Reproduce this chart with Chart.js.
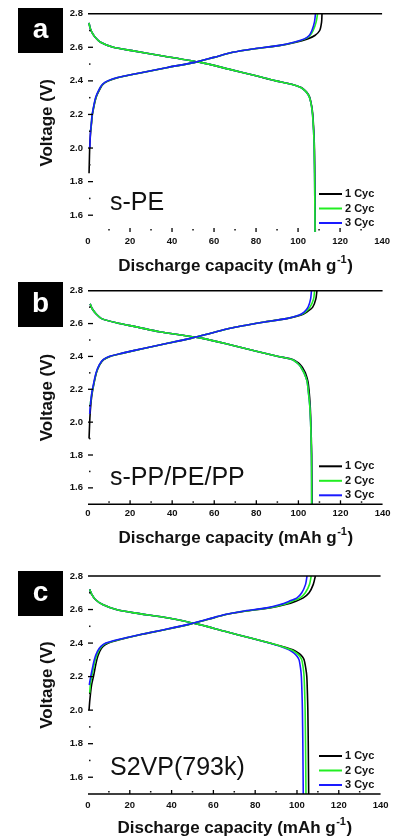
<!DOCTYPE html>
<html>
<head>
<meta charset="utf-8">
<script src="https://cdn.jsdelivr.net/npm/chart.js@4.4.1/dist/chart.umd.min.js"></script>
<style>
body { margin: 0; background: #fff; width: 394px; height: 840px; overflow: hidden; position: relative; }
canvas { position: absolute; left: 0; }
</style>
</head>
<body>
<canvas id="chartA" width="394" height="280" style="top:0px"></canvas>
<canvas id="chartB" width="394" height="280" style="top:280px"></canvas>
<canvas id="chartC" width="394" height="280" style="top:560px"></canvas>
<script>
// cycle names and colours
var cycleLabels = ['1 Cyc', '2 Cyc', '3 Cyc'];
var cycleColors = ['#000000', '#22ee22', '#1a1aff'];

// voltage grid (V) for the charge branch (rising) and discharge branch (falling)
var chargeV = [1.85, 1.9, 2.0, 2.05, 2.1, 2.15, 2.2, 2.3, 2.35, 2.38, 2.40, 2.42, 2.45, 2.48, 2.51, 2.54, 2.57, 2.59, 2.61, 2.63, 2.65, 2.67, 2.70, 2.75, 2.80];
var dischargeV = [2.745, 2.72, 2.69, 2.66, 2.63, 2.60, 2.58, 2.55, 2.51, 2.47, 2.43, 2.40, 2.38, 2.36, 2.34, 2.32, 2.30, 2.25, 2.20, 2.10, 2.0, 1.8, 1.5];

// capacity (mAh/g) at those voltages; null = no point
// a: s-PE
var chargeA1 = [0.5, 0.6, 0.8, 1.0, 1.3, 1.7, 2.1, 3.8, 5.6, 7.2, 9.8, 14.5, 26, 38, 51, 60, 69, 78.5, 91, 99, 104.5, 108, 110.3, 111.2, 111.4];
var chargeA2 = [null, null, null, null, 1.2, 1.6, 2.0, 3.7, 5.4, 7.0, 9.5, 14.2, 26, 38, 51, 60, 69, 78.4, 90.7, 98.3, 103.3, 105.7, 107.2, 108.6, 109.3];
var chargeA3 = [null, null, 0.9, 1.0, 1.2, 1.6, 2.0, 3.6, 5.3, 6.9, 9.3, 14, 25.8, 37.8, 50.8, 59.8, 68.8, 78.3, 90.5, 98, 103, 105.3, 106.6, 107.8, 108.3];
var dischA1 = [0.5, 0.9, 1.8, 3.4, 6.0, 12, 21, 35, 53.5, 67, 80, 89.5, 97, 101.5, 103.5, 104.8, 105.6, 106.5, 107, 107.5, 107.8, 108.0, 108.2];
var dischA2 = [0.5, 0.9, 1.8, 3.4, 6.0, 12, 21, 35, 53.5, 67, 80, 89.4, 96.8, 101.3, 103.4, 104.7, 105.5, 106.4, 106.9, 107.4, 107.7, 107.9, 108.1];
var dischA3 = [0.5, 0.9, 1.8, 3.4, 6.0, 12, 21, 35, 53.5, 67, 80, 89.4, 96.8, 101.3, 103.4, 104.7, 105.5, 106.4, 106.9, 107.4, 107.7, 107.9, 108.1];
// b: s-PP/PE/PP
var chargeB1 = [null, 0.5, 0.8, 1.0, 1.3, 1.7, 2.3, 4.0, 5.6, 7.5, 10.5, 16.6, 27, 37.9, 49, 58, 67, 75.1, 84, 94.5, 101, 104, 106.8, 108.3, 108.8];
var chargeB2 = [null, null, null, null, 1.0, 1.5, 2.2, 3.9, 5.5, 7.3, 10.2, 16.5, 27, 37.9, 48.8, 58, 67, 75, 84, 94.3, 100.3, 103.3, 105.5, 107.2, 107.7];
var chargeB3 = [null, null, null, 0.8, 1.1, 1.5, 2.1, 3.8, 5.4, 7.2, 10, 16.3, 26.8, 37.8, 48.5, 58, 67, 75, 84, 94.3, 100.1, 102.7, 104.6, 105.8, 106.2];
var dischB1 = [null, 1.0, 2.0, 3.8, 6.5, 15, 23, 34, 54.5, 68, 80.5, 90.5, 97.6, 100, 101.5, 102.5, 103.3, 104.5, 105, 105.6, 105.9, 106.3, 106.5];
var dischB2 = [null, 1.0, 2.0, 3.8, 6.5, 15, 23, 34, 54.5, 68, 80.5, 90.4, 97.2, 99.4, 100.9, 101.8, 102.7, 104.1, 104.6, 105.4, 105.8, 106.2, 106.3];
var dischB3 = [null, 1.0, 2.0, 3.8, 6.5, 15, 23, 34, 54.5, 68, 80.5, 90.4, 97.2, 99.4, 100.9, 101.8, 102.7, 104.1, 104.6, 105.4, 105.8, 106.2, 106.3];
// c: S2VP(793k)
var chargeC1 = [null, null, 0.5, 0.8, 1.2, 1.7, 2.6, 4.2, 5.6, 7.2, 9.8, 15, 25, 36.8, 48, 57.2, 66, 75, 87, 94.5, 99.5, 103, 105.8, 107.8, 108.8];
var chargeC2 = [null, null, null, null, 0.8, 1.1, 1.8, 3.5, 5.0, 6.6, 9.0, 14.5, 24.8, 36.6, 47.8, 57, 65.8, 74.5, 86.3, 93.5, 97.8, 101.5, 104, 106, 106.8];
var chargeC3 = [null, null, null, null, null, 0.6, 1.3, 3.0, 4.5, 6.2, 8.5, 14, 24.5, 36.3, 47.5, 56.7, 65.5, 74, 85.5, 92, 96.3, 100, 102.3, 104.1, 104.8];
var dischC1 = [null, 0.8, 1.8, 3.5, 7, 13.5, 22, 38.5, 53.5, 65.4, 77.8, 87, 93, 98, 100.8, 102.5, 103.4, 104.2, 104.7, 105.0, 105.2, 105.4, 105.6];
var dischC2 = [null, 0.8, 1.8, 3.5, 7, 13.5, 22, 38.5, 53.5, 65.4, 77.8, 87, 92.6, 97.2, 99.8, 101.4, 102.3, 103.0, 103.4, 103.7, 103.9, 104.1, 104.3];
var dischC3 = [null, 0.8, 1.8, 3.5, 7, 13.5, 22, 38.5, 53.5, 65.4, 77.8, 86.7, 92.2, 96.2, 98.6, 100.1, 101.0, 101.7, 102.1, 102.4, 102.6, 102.8, 103.0];

var xMin = 0, xMax = 140, xStep = 10;
var yMin = 1.5, yMax = 2.8, yStep = 0.1;

var FONT = "'Liberation Sans', Arial, sans-serif";

var panels = [
    { canvas: 'chartA', tag: 'a', sample: 's-PE', tagTop: 8, sampleY: 209.5, top: 13.7, bottom: 232, bottomLine: false, tickPad: 4,
      charge: [chargeA1, chargeA2, chargeA3], disch: [dischA1, dischA2, dischA3] },
    { canvas: 'chartB', tag: 'b', sample: 's-PP/PE/PP', tagTop: 2, sampleY: 205, top: 7.3, bottom: 224.3, bottomLine: true, tickPad: 3.5,
      charge: [chargeB1, chargeB2, chargeB3], disch: [dischB1, dischB2, dischB3] },
    { canvas: 'chartC', tag: 'c', sample: 'S2VP(793k)', tagTop: 11, sampleY: 215, top: 16, bottom: 234, bottomLine: true, tickPad: 5.5,
      charge: [chargeC1, chargeC2, chargeC3], disch: [dischC1, dischC2, dischC3] }
];

function toPoints(volts, caps){
    var pts = [];
    for (var i = 0; i < volts.length; i++){
        if (caps[i] !== null) pts.push({x: caps[i], y: volts[i]});
    }
    return pts;
}

function isMajorY(v){ return Math.round(v * 10) % 2 === 0; }

var framePlugin = {
    id: 'frame',
    afterDraw: function(chart, args, opts){
        var ctx = chart.ctx;
        var a = chart.chartArea;
        var xs = chart.scales.x, ys = chart.scales.y;
        ctx.save();
        ctx.strokeStyle = '#000';
        ctx.fillStyle = '#111';

        // top line at 2.8 V
        ctx.lineWidth = 1.5;
        ctx.beginPath();
        ctx.moveTo(a.left, a.top); ctx.lineTo(a.right, a.top);
        if (opts.bottomLine){ ctx.moveTo(a.left, a.bottom); ctx.lineTo(a.right, a.bottom); }
        ctx.stroke();

        // inward y ticks
        ctx.lineWidth = 1.3;
        ys.ticks.forEach(function(t){
            if (t.value <= yMin + 0.01 || t.value >= yMax - 0.01) return;
            var py = ys.getPixelForValue(t.value);
            if (isMajorY(t.value)){
                ctx.beginPath(); ctx.moveTo(a.left, py); ctx.lineTo(a.left + 5, py); ctx.stroke();
            } else {
                ctx.fillRect(a.left + 1, py - 0.75, 1.5, 1.5);
            }
        });
        // inward x ticks
        xs.ticks.forEach(function(t){
            if (t.value <= xMin || t.value >= xMax) return;
            var px = xs.getPixelForValue(t.value);
            if (t.value % 20 === 0){
                ctx.beginPath(); ctx.moveTo(px, a.bottom); ctx.lineTo(px, a.bottom - 4); ctx.stroke();
            } else {
                ctx.fillRect(px - 0.75, a.bottom - 3, 1.5, 1.5);
            }
        });

        // legend
        ctx.font = 'bold 11px ' + FONT;
        ctx.textBaseline = 'middle';
        ctx.textAlign = 'left';
        var rows = [38, 23.5, 9];
        for (var i = 0; i < cycleLabels.length; i++){
            var ly = a.bottom - rows[i];
            ctx.strokeStyle = cycleColors[i];
            ctx.lineWidth = 2;
            ctx.beginPath(); ctx.moveTo(319, ly); ctx.lineTo(342, ly); ctx.stroke();
            ctx.fillStyle = '#111';
            ctx.fillText(cycleLabels[i], 345, ly);
        }

        // sample name
        ctx.font = '25px ' + FONT;
        ctx.textBaseline = 'alphabetic';
        ctx.fillStyle = '#111';
        ctx.fillText(opts.sample, 110, opts.sampleY);

        // panel tag
        ctx.fillStyle = '#000';
        ctx.fillRect(18, opts.tagTop, 45, 45);
        ctx.fillStyle = '#fff';
        ctx.font = 'bold 28px ' + FONT;
        ctx.textAlign = 'center';
        ctx.textBaseline = 'middle';
        ctx.fillText(opts.tag, 40.5, opts.tagTop + 22);

        // x title with superscript
        var main = 'Discharge capacity (mAh g', sup = '-1', close = ')';
        var big = 'bold 17px ' + FONT, small = 'bold 11px ' + FONT;
        ctx.font = big; var w1 = ctx.measureText(main).width, w3 = ctx.measureText(close).width;
        ctx.font = small; var w2 = ctx.measureText(sup).width;
        var x0 = (a.left + a.right) / 2 - (w1 + w2 + w3) / 2;
        var ty = a.bottom + 39;
        ctx.fillStyle = '#111';
        ctx.textAlign = 'left';
        ctx.textBaseline = 'alphabetic';
        ctx.font = big; ctx.fillText(main, x0, ty);
        ctx.font = small; ctx.fillText(sup, x0 + w1 + 0.5, ty - 8);
        ctx.font = big; ctx.fillText(close, x0 + w1 + w2 + 1, ty);
        ctx.restore();
    }
};

function makeChart(p){
    var datasets = [];
    // charge branches: blue on top, then green, then black
    [2, 1, 0].forEach(function(c){
        datasets.push({ label: cycleLabels[c], data: toPoints(chargeV, p.charge[c]), borderColor: cycleColors[c] });
    });
    // discharge branches: green on top, then blue, then black
    [1, 2, 0].forEach(function(c){
        datasets.push({ label: cycleLabels[c], data: toPoints(dischargeV, p.disch[c]), borderColor: cycleColors[c] });
    });
    datasets.forEach(function(d){
        d.borderWidth = 1.6; d.pointRadius = 0; d.tension = 0.25; d.fill = false;
    });

    var H = 280;
    return new Chart(document.getElementById(p.canvas), {
        type: 'line',
        data: { datasets: datasets },
        options: {
            responsive: false,
            animation: false,
            devicePixelRatio: 1,
            layout: { padding: { left: 0, right: 11, top: p.top, bottom: 0 } },
            plugins: {
                legend: { display: false },
                tooltip: { enabled: false },
                frame: { tag: p.tag, sample: p.sample, tagTop: p.tagTop, sampleY: p.sampleY, bottomLine: p.bottomLine }
            },
            scales: {
                x: {
                    type: 'linear', min: xMin, max: xMax,
                    grid: { display: false, drawTicks: false },
                    border: { display: false },
                    ticks: {
                        stepSize: xStep, autoSkip: false, maxRotation: 0, minRotation: 0,
                        padding: p.tickPad, color: '#111',
                        font: { family: FONT, size: 9.5, weight: 'bold' },
                        callback: function(v){ return v % 20 === 0 ? String(v) : ''; }
                    },
                    afterFit: function(s){ s.height = H - p.bottom; }
                },
                y: {
                    type: 'linear', min: yMin, max: yMax,
                    grid: { display: false, drawTicks: false },
                    border: { display: false },
                    ticks: {
                        stepSize: yStep, autoSkip: false, padding: 5, color: '#111',
                        font: { family: FONT, size: 9.5, weight: 'bold' },
                        callback: function(v){ return isMajorY(v) ? v.toFixed(1) : ''; }
                    },
                    title: {
                        display: true, text: 'Voltage (V)', color: '#111',
                        font: { family: FONT, size: 17, weight: 'bold' },
                        padding: { top: 37, bottom: 0 }
                    },
                    afterFit: function(s){ s.width = 88; }
                }
            }
        },
        plugins: [framePlugin]
    });
}

panels.forEach(makeChart);
</script>
</body>
</html>
